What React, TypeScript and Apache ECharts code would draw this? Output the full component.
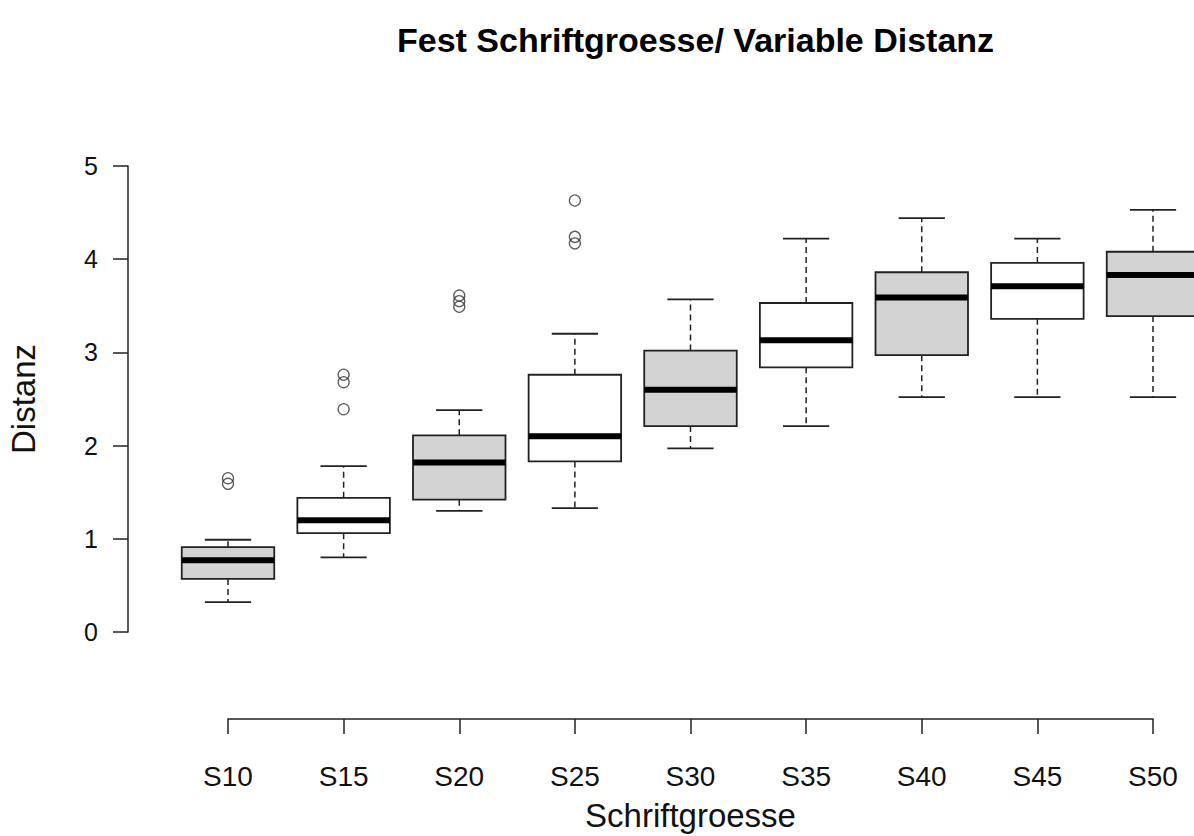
import React, { useEffect, useRef } from "react";
import * as echarts from "echarts";

const categories = ["S10", "S15", "S20", "S25", "S30", "S35", "S40", "S45", "S50"];
const whiskerLow = [0.32, 0.8, 1.3, 1.33, 1.97, 2.21, 2.52, 2.52, 2.52];
const q1 = [0.57, 1.06, 1.42, 1.83, 2.21, 2.84, 2.97, 3.36, 3.39];
const median = [0.77, 1.2, 1.82, 2.1, 2.6, 3.13, 3.59, 3.71, 3.83];
const q3 = [0.91, 1.44, 2.11, 2.76, 3.02, 3.53, 3.86, 3.96, 4.08];
const whiskerHigh = [0.99, 1.78, 2.38, 3.2, 3.57, 4.22, 4.44, 4.22, 4.53];
const boxFills = ["#d3d3d3", "#ffffff", "#d3d3d3", "#ffffff", "#d3d3d3", "#ffffff", "#d3d3d3", "#ffffff", "#d3d3d3"];
const outlierCategory = ["S10", "S10", "S15", "S15", "S15", "S20", "S20", "S20", "S25", "S25", "S25"];
const outlierValue = [1.65, 1.59, 2.76, 2.68, 2.39, 3.61, 3.55, 3.49, 4.63, 4.24, 4.17];
const yTicks = [0, 1, 2, 3, 4, 5];

const FONT = "'Liberation Sans', Arial, sans-serif";

export default function App() {
  const ref = useRef<HTMLDivElement>(null);
  useEffect(() => {
    if (!ref.current) return;
    const chart = echarts.init(ref.current, undefined, { renderer: "svg" });
    const boxData = categories.map((c, i) => [i, whiskerLow[i], q1[i], median[i], q3[i], whiskerHigh[i]]);
    const outData = outlierCategory.map((c, i) => [categories.indexOf(c), outlierValue[i]]);
    const option: any = {
      animation: false,
      backgroundColor: "#ffffff",
      textStyle: { fontFamily: FONT },
      title: {
        text: "Fest Schriftgroesse/ Variable Distanz",
        left: 392,
        top: 18,
        textStyle: { fontFamily: FONT, fontSize: 34, fontWeight: "bold", color: "#000" },
      },
      grid: [
        { left: 228, right: 41, top: 166, bottom: 204, outerBoundsMode: "none", containLabel: false },
        { left: 228, right: 41, top: 718, height: 1, outerBoundsMode: "none", containLabel: false },
      ],
      xAxis: [
        { gridIndex: 0, type: "category", data: categories, boundaryGap: false, show: false },
        {
          gridIndex: 1,
          type: "category",
          data: categories,
          boundaryGap: false,
          position: "bottom",
          axisLine: { show: true, lineStyle: { color: "#222", width: 1.5 } },
          axisTick: { show: true, length: 15, alignWithLabel: true, lineStyle: { color: "#222", width: 1.5 } },
          axisLabel: { fontSize: 28, color: "#111", margin: 43, fontFamily: FONT, interval: 0 },
          splitLine: { show: false },
          name: "Schriftgroesse",
          nameLocation: "middle",
          nameGap: 80,
          nameTextStyle: { fontSize: 33, color: "#111", fontFamily: FONT },
        },
      ],
      yAxis: [
        {
          gridIndex: 0,
          type: "value",
          min: yTicks[0],
          max: yTicks[yTicks.length - 1],
          interval: 1,
          offset: 100,
          axisLine: { show: true, lineStyle: { color: "#222", width: 1.5 } },
          axisTick: { show: true, length: 15, lineStyle: { color: "#222", width: 1.5 } },
          axisLabel: { fontSize: 25, color: "#111", margin: 30, fontFamily: FONT },
          splitLine: { show: false },
          name: "Distanz",
          nameLocation: "middle",
          nameGap: 88,
          nameTextStyle: { fontSize: 33, color: "#111", fontFamily: FONT },
        },
        { gridIndex: 1, type: "value", show: false },
      ],
      series: [
        {
          type: "custom",
          xAxisIndex: 0,
          yAxisIndex: 0,
          data: boxData,
          encode: { x: 0, y: [1, 2, 3, 4, 5] },
          clip: false,
          renderItem: (params: any, api: any) => {
            const idx = api.value(0);
            const pLo = api.coord([idx, api.value(1)]);
            const pQ1 = api.coord([idx, api.value(2)]);
            const pMed = api.coord([idx, api.value(3)]);
            const pQ3 = api.coord([idx, api.value(4)]);
            const pHi = api.coord([idx, api.value(5)]);
            const cx = pMed[0];
            const bw = api.size([1, 0])[0] * 0.8;
            const cap = bw / 2;
            const stroke = "#222";
            const dashStyle = { stroke, lineWidth: 1.5, lineDash: [6, 4] };
            const solid = { stroke, lineWidth: 1.8 };
            return {
              type: "group",
              children: [
                { type: "line", shape: { x1: cx, y1: pQ3[1], x2: cx, y2: pHi[1] }, style: dashStyle },
                { type: "line", shape: { x1: cx, y1: pQ1[1], x2: cx, y2: pLo[1] }, style: dashStyle },
                { type: "line", shape: { x1: cx - cap / 2, y1: pHi[1], x2: cx + cap / 2, y2: pHi[1] }, style: solid },
                { type: "line", shape: { x1: cx - cap / 2, y1: pLo[1], x2: cx + cap / 2, y2: pLo[1] }, style: solid },
                {
                  type: "rect",
                  shape: { x: cx - bw / 2, y: pQ3[1], width: bw, height: pQ1[1] - pQ3[1] },
                  style: { fill: boxFills[idx], stroke, lineWidth: 1.8 },
                },
                {
                  type: "line",
                  shape: { x1: cx - bw / 2, y1: pMed[1], x2: cx + bw / 2, y2: pMed[1] },
                  style: { stroke: "#000", lineWidth: 6 },
                },
              ],
            };
          },
        },
        {
          type: "scatter",
          xAxisIndex: 0,
          yAxisIndex: 0,
          data: outData,
          symbol: "circle",
          symbolSize: 11,
          itemStyle: { color: "rgba(255,255,255,0)", borderColor: "#333", borderWidth: 1.3 },
        },
      ],
    };
    chart.setOption(option);
    return () => chart.dispose();
  }, []);
  return (
    <div
      ref={ref}
      style={{ position: "fixed", left: 0, top: 0, width: 1194, height: 836, background: "#fff" }}
    />
  );
}
